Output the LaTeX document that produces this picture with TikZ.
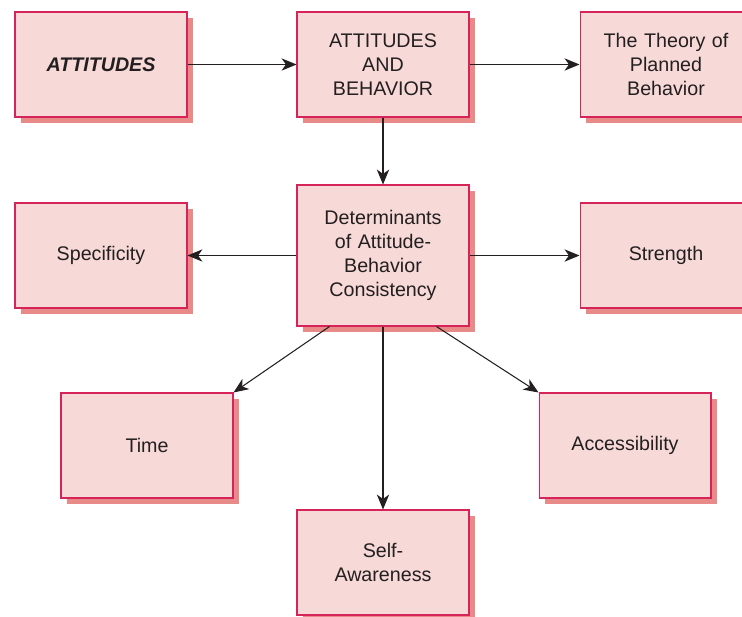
\documentclass[tikz,border=0pt]{standalone}
\usepackage{fontspec}
\setmainfont{Liberation Sans}
\usetikzlibrary{arrows.meta,shadows}

\definecolor{boxfill}{HTML}{F7D9D7}
\definecolor{boxline}{HTML}{D6245A}
\definecolor{boxshade}{HTML}{E88A88}
\definecolor{inkgray}{HTML}{231F20}

\tikzset{
    topic/.style={draw=boxline, fill=boxfill, line width=0.6pt,
        minimum width=3.44cm, minimum height=2.1cm, text width=3cm,
        align=center, text=inkgray, font=\fontsize{11.2}{13.8}\selectfont,
        drop shadow={shadow xshift=0.12cm, shadow yshift=-0.12cm,
            fill=boxshade, opacity=1}},
    link/.style={draw=inkgray, line width=0.6pt,
        -{Stealth[length=8.5pt,width=7pt,inset=2.5pt]}}
}

\begin{document}
\begin{tikzpicture}[x=0.02cm, y=-0.02cm]

                \useasboundingbox (0,0) rectangle (742,616);

                % top row
                \node[topic] (att) at (101,64.5) {\bfseries\itshape ATTITUDES};
                \node[topic] (ab) at (383,64.5) {ATTITUDES\\AND\\BEHAVIOR};
                \node[topic] (tpb) at (666,64.5) {The Theory of\\Planned\\Behavior};

                % middle row
                \node[topic, minimum height=2.82cm] (det) at (383,255.5) {Determinants\\of Attitude-\\Behavior\\Consistency};
                \node[topic] (spec) at (101,255.5) {Specificity};
                \node[topic] (str) at (666,255.5) {Strength};

                % determinants
                \node[topic] (time) at (147,445.5) {Time};
                \node[topic] (acc) at (625,445.5) {Accessibility};
                \node[topic] (self) at (383,562.5) {Self-\\Awareness};

                \draw[link] (att) -- (ab);
                \draw[link] (ab) -- (tpb);
                \draw[link] (ab) -- (det);
                \draw[link] (det) -- (spec);
                \draw[link] (det) -- (str);
                \draw[link] (det.233) -- (time.north east);
                \draw[link] (det) -- (self);
                \draw[link] (det.307) -- (acc.north west);
\end{tikzpicture}
\end{document}
